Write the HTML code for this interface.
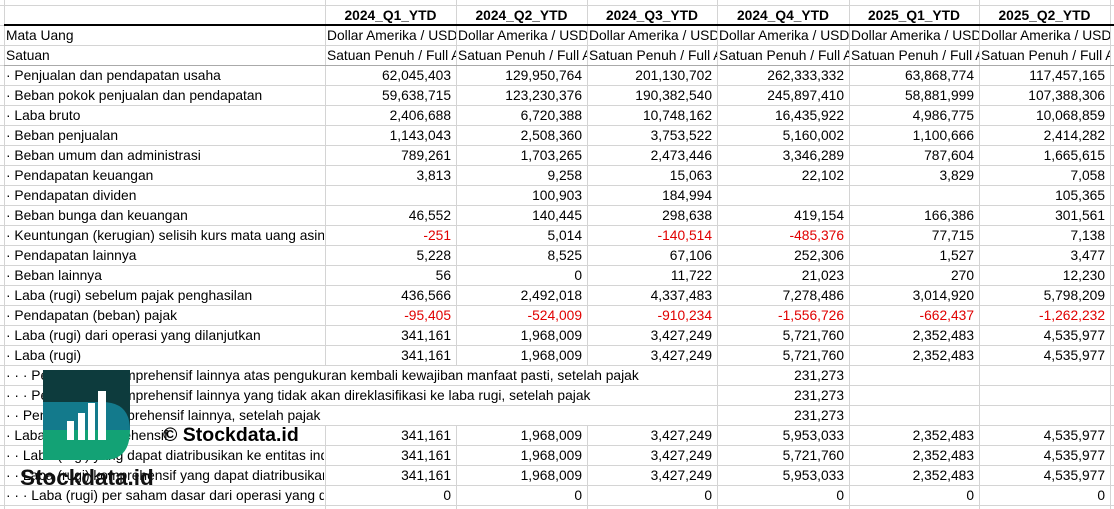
<!DOCTYPE html>
<html><head><meta charset="utf-8"><style>
body{margin:0;width:1114px;height:509px;overflow:hidden;background:#fff;font-family:"Liberation Sans",Arial,sans-serif;font-size:13.8px;color:#000;position:relative}
.c{position:absolute;height:19px;line-height:19px;white-space:nowrap;overflow:hidden;box-sizing:border-box}
.r{text-align:right;padding-right:5px}
.red{color:#e00000}
.h{font-weight:bold;text-align:center}
.vl{position:absolute;top:0;width:1px;height:509px;background:#d4d4d4}
.hl{position:absolute;left:0;width:1114px;height:1px;background:#d4d4d4}
</style></head><body>
<div id="g"></div>
<script>
const cols=[4,325,456,587,717,849,979,1110];
let h='';
cols.forEach(x=>h+=`<div class="vl" style="left:${x}px"></div>`);
for(let y=5;y<509;y+=20)h+=`<div class="hl" style="top:${y}px"></div>`;
h+=`<div style="position:absolute;left:4px;top:24px;width:1110px;height:2px;background:#000"></div>`;
h+=`<div style="position:absolute;left:4px;top:65px;width:1110px;height:1px;background:#aaa"></div>`;
const heads=['2024_Q1_YTD','2024_Q2_YTD','2024_Q3_YTD','2024_Q4_YTD','2025_Q1_YTD','2025_Q2_YTD'];
heads.forEach((t,i)=>h+=`<div class="c h" style="left:${cols[i+1]}px;top:6px;width:${cols[i+2]-cols[i+1]}px">${t}</div>`);
const rows=[
['Mata Uang',Array(6).fill('Dollar Amerika / USD'),1],
['Satuan',Array(6).fill('Satuan Penuh / Full Amount'),1],
['· Penjualan dan pendapatan usaha',['62,045,403','129,950,764','201,130,702','262,333,332','63,868,774','117,457,165']],
['· Beban pokok penjualan dan pendapatan',['59,638,715','123,230,376','190,382,540','245,897,410','58,881,999','107,388,306']],
['· Laba bruto',['2,406,688','6,720,388','10,748,162','16,435,922','4,986,775','10,068,859']],
['· Beban penjualan',['1,143,043','2,508,360','3,753,522','5,160,002','1,100,666','2,414,282']],
['· Beban umum dan administrasi',['789,261','1,703,265','2,473,446','3,346,289','787,604','1,665,615']],
['· Pendapatan keuangan',['3,813','9,258','15,063','22,102','3,829','7,058']],
['· Pendapatan dividen',['','100,903','184,994','','','105,365']],
['· Beban bunga dan keuangan',['46,552','140,445','298,638','419,154','166,386','301,561']],
['· Keuntungan (kerugian) selisih kurs mata uang asing',['-251','5,014','-140,514','-485,376','77,715','7,138']],
['· Pendapatan lainnya',['5,228','8,525','67,106','252,306','1,527','3,477']],
['· Beban lainnya',['56','0','11,722','21,023','270','12,230']],
['· Laba (rugi) sebelum pajak penghasilan',['436,566','2,492,018','4,337,483','7,278,486','3,014,920','5,798,209']],
['· Pendapatan (beban) pajak',['-95,405','-524,009','-910,234','-1,556,726','-662,437','-1,262,232']],
['· Laba (rugi) dari operasi yang dilanjutkan',['341,161','1,968,009','3,427,249','5,721,760','2,352,483','4,535,977']],
['· Laba (rugi)',['341,161','1,968,009','3,427,249','5,721,760','2,352,483','4,535,977']],
['· · · Pendapatan komprehensif lainnya atas pengukuran kembali kewajiban manfaat pasti, setelah pajak',['','','','231,273','',''],2],
['· · · Pendapatan komprehensif lainnya yang tidak akan direklasifikasi ke laba rugi, setelah pajak',['','','','231,273','',''],2],
['· · Pendapatan komprehensif lainnya, setelah pajak',['','','','231,273','',''],2],
['· Laba (rugi) komprehensif',['341,161','1,968,009','3,427,249','5,953,033','2,352,483','4,535,977']],
['· · Laba (rugi) yang dapat diatribusikan ke entitas induk',['341,161','1,968,009','3,427,249','5,721,760','2,352,483','4,535,977']],
['· · Laba (rugi) komprehensif yang dapat diatribusikan',['341,161','1,968,009','3,427,249','5,953,033','2,352,483','4,535,977']],
['· · · Laba (rugi) per saham dasar dari operasi yang dilanjutkan',['0','0','0','0','0','0']]
];
rows.forEach((r,i)=>{
 const y=26+i*20;
 if(r[2]===2){
  h+=`<div class="c" style="left:5px;top:${y}px;width:711px;background:#fff;padding-left:1px">${r[0]}</div>`;
 } else h+=`<div class="c" style="left:5px;top:${y}px;width:319px;padding-left:1px">${r[0]}</div>`;
 r[1].forEach((v,j)=>{ if(!v)return;
  const w=cols[j+2]-cols[j+1];
  if(r[2]===1) h+=`<div class="c" style="left:${cols[j+1]+1}px;top:${y}px;width:${w-1}px;background:#fff;padding-left:1px">${v}</div>`;
  else h+=`<div class="c r${v[0]=='-'?' red':''}" style="left:${cols[j+1]+1}px;top:${y}px;width:${w-1}px">${v}</div>`;
 });
});
document.getElementById('g').innerHTML=h;
</script>
<svg style="position:absolute;left:0;top:0" width="1114" height="509">
<rect x="43" y="370" width="87" height="60" fill="#0d3b3d"/>
<path d="M43,402 H102 Q130,402 130,430 H43 Z" fill="#137a8c"/>
<path d="M43,430 H130 Q130,460 104,460 H43 Z" fill="#13a275"/>
<rect x="67" y="421" width="7" height="19" fill="#fff"/>
<rect x="78" y="413" width="7" height="27" fill="#fff"/>
<rect x="88" y="403" width="7" height="37" fill="#fff"/>
<rect x="98" y="391" width="8" height="49" fill="#fff"/>
<text x="163" y="441" font-family="Liberation Sans" font-weight="bold" font-size="19.5" fill="#000">© Stockdata.id</text>
<text x="20" y="485" font-family="Liberation Sans" font-weight="bold" font-size="22.5" fill="#111">Stockdata.id</text>
</svg>
</body></html>
